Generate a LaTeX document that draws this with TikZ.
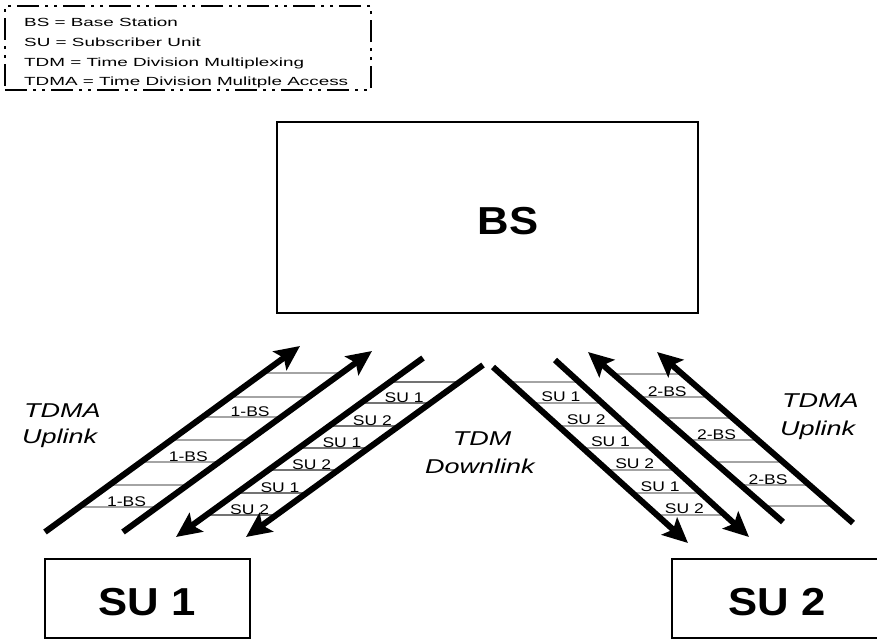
\documentclass[tikz,border=0pt]{standalone}
\usepackage{fontspec}
\setmainfont{Liberation Sans}
\usepackage{graphicx}
\usetikzlibrary{arrows.meta,calc}
\newcommand\sx[2]{\scalebox{#1}[1]{#2}}
\newcommand\slotline[3]{%
  \path (0,#3) coordinate (hA) (10,#3) coordinate (hB);
  \draw[slot] (intersection of #1t--#1h and hA--hB) -- (intersection of #2t--#2h and hA--hB);}
\newcommand\slotlabel[5]{%
  \path (0,#3-5) coordinate (hA) (10,#3-5) coordinate (hB);
  \path (intersection of #1t--#1h and hA--hB) coordinate (pL);
  \path (intersection of #2t--#2h and hA--hB) coordinate (pR);
  \node[lbl] (#5) at ($(pL)!0.5!(pR)+(0,5)$) {\sx{1.25}{#4}};}
\tikzset{
  bigarrow/.style={line width=6pt,-{Stealth[length=25pt,width=23pt,inset=5pt]}},
  slot/.style={line width=1.2pt,draw=black!55},
  lbl/.style={inner sep=0pt,anchor=base,font=\fontsize{14}{14}\selectfont},
  legtext/.style={inner sep=0pt,anchor=base west,font=\fontsize{11.8}{12}\selectfont},
  linktext/.style={inner sep=0pt,font=\fontsize{20}{20}\selectfont\itshape},
  unitbox/.style={draw,line width=2.5pt,inner sep=0pt,rectangle},
  bigtext/.style={inner sep=0pt,anchor=base,font=\fontsize{39}{39}\selectfont\bfseries},
}
\begin{document}
\begin{tikzpicture}[x=1pt,y=-1pt]
\useasboundingbox (0,0) rectangle (877,640);

% legend
\node[draw,line width=2pt,dash pattern=on 22pt off 6pt on 3pt off 6pt on 3pt off 6pt,
      minimum width=366pt,minimum height=84pt,inner sep=0pt] (legend) at (188,48) {};
\node[legtext] (leg1) at (24,26) {\sx{1.6}{BS = Base Station}};
\node[legtext] (leg2) at (24,46) {\sx{1.6}{SU = Subscriber Unit}};
\node[legtext] (leg3) at (24,66) {\sx{1.6}{TDM = Time Division Multiplexing}};
\node[legtext] (leg4) at (24,85) {\sx{1.6}{TDMA = Time Division Mulitple Access}};

% boxes
\node[unitbox,minimum width=421pt,minimum height=191pt] (bs) at (487.5,217.5) {};
\node[bigtext] (bstext) at (508,234) {\sx{1.12}{BS}};
\node[unitbox,minimum width=205pt,minimum height=79pt] (su1) at (147.5,598.5) {};
\node[bigtext] (su1text) at (147,615) {\sx{1.12}{SU 1}};
\begin{scope}
\clip (0,0) rectangle (877,640);
\node[unitbox,minimum width=210pt,minimum height=79pt] (su2) at (777,598.5) {};
\end{scope}
\node[bigtext] (su2text) at (777,615) {\sx{1.12}{SU 2}};

% arrow end points
\coordinate (a1t) at (45,532);  \coordinate (a1h) at (300,346);
\coordinate (a2t) at (123,532); \coordinate (a2h) at (372,351);
\coordinate (a3t) at (423,358); \coordinate (a3h) at (176,537);
\coordinate (a4t) at (483,365); \coordinate (a4h) at (246,537);
\coordinate (a5t) at (493,367); \coordinate (a5h) at (688,543);
\coordinate (a6t) at (555,360); \coordinate (a6h) at (749,537);
\coordinate (a7t) at (783,522); \coordinate (a7h) at (588,352);
\coordinate (a8t) at (853,523); \coordinate (a8h) at (657,352);

% slot lines
\foreach \y in {373,397,417,440,462,485,507} {\slotline{a1}{a2}{\y}}
\foreach \y in {382,403,426,448,470,493,515} {\slotline{a3}{a4}{\y}}
\foreach \y in {382,403,426,448,470,493,515} {\slotline{a5}{a6}{\y}}
\foreach \y in {374,397,418,440,462,485,506} {\slotline{a7}{a8}{\y}}

% slot labels
\slotlabel{a1}{a2}{416}{1-BS}{u1a}
\slotlabel{a1}{a2}{461}{1-BS}{u1b}
\slotlabel{a1}{a2}{506}{1-BS}{u1c}
\slotlabel{a3}{a4}{402}{SU 1}{d1a}
\slotlabel{a3}{a4}{425}{SU 2}{d1b}
\slotlabel{a3}{a4}{447}{SU 1}{d1c}
\slotlabel{a3}{a4}{469}{SU 2}{d1d}
\slotlabel{a3}{a4}{492}{SU 1}{d1e}
\slotlabel{a3}{a4}{514}{SU 2}{d1f}
\slotlabel{a5}{a6}{402}{SU 1}{d2a}
\slotlabel{a5}{a6}{425}{SU 2}{d2b}
\slotlabel{a5}{a6}{447}{SU 1}{d2c}
\slotlabel{a5}{a6}{469}{SU 2}{d2d}
\slotlabel{a5}{a6}{492}{SU 1}{d2e}
\slotlabel{a5}{a6}{514}{SU 2}{d2f}
\slotlabel{a7}{a8}{396}{2-BS}{u2a}
\slotlabel{a7}{a8}{439}{2-BS}{u2b}
\slotlabel{a7}{a8}{484}{2-BS}{u2c}

% thick arrows
\foreach \a in {a1,a2,a3,a4,a5,a6,a7,a8} {\draw[bigarrow] (\a t) -- (\a h);}

% link texts
\node[linktext,anchor=base west] (lup1) at (24,417) {\sx{1.35}{TDMA}};
\node[linktext,anchor=base west] (lup2) at (22,443) {\sx{1.35}{Uplink}};
\node[linktext,anchor=base] (dn1) at (482,445) {\sx{1.35}{TDM}};
\node[linktext,anchor=base] (dn2) at (480,473) {\sx{1.35}{Downlink}};
\node[linktext,anchor=base west] (rup1) at (782,407) {\sx{1.35}{TDMA}};
\node[linktext,anchor=base west] (rup2) at (780,435) {\sx{1.35}{Uplink}};
\end{tikzpicture}
\end{document}
